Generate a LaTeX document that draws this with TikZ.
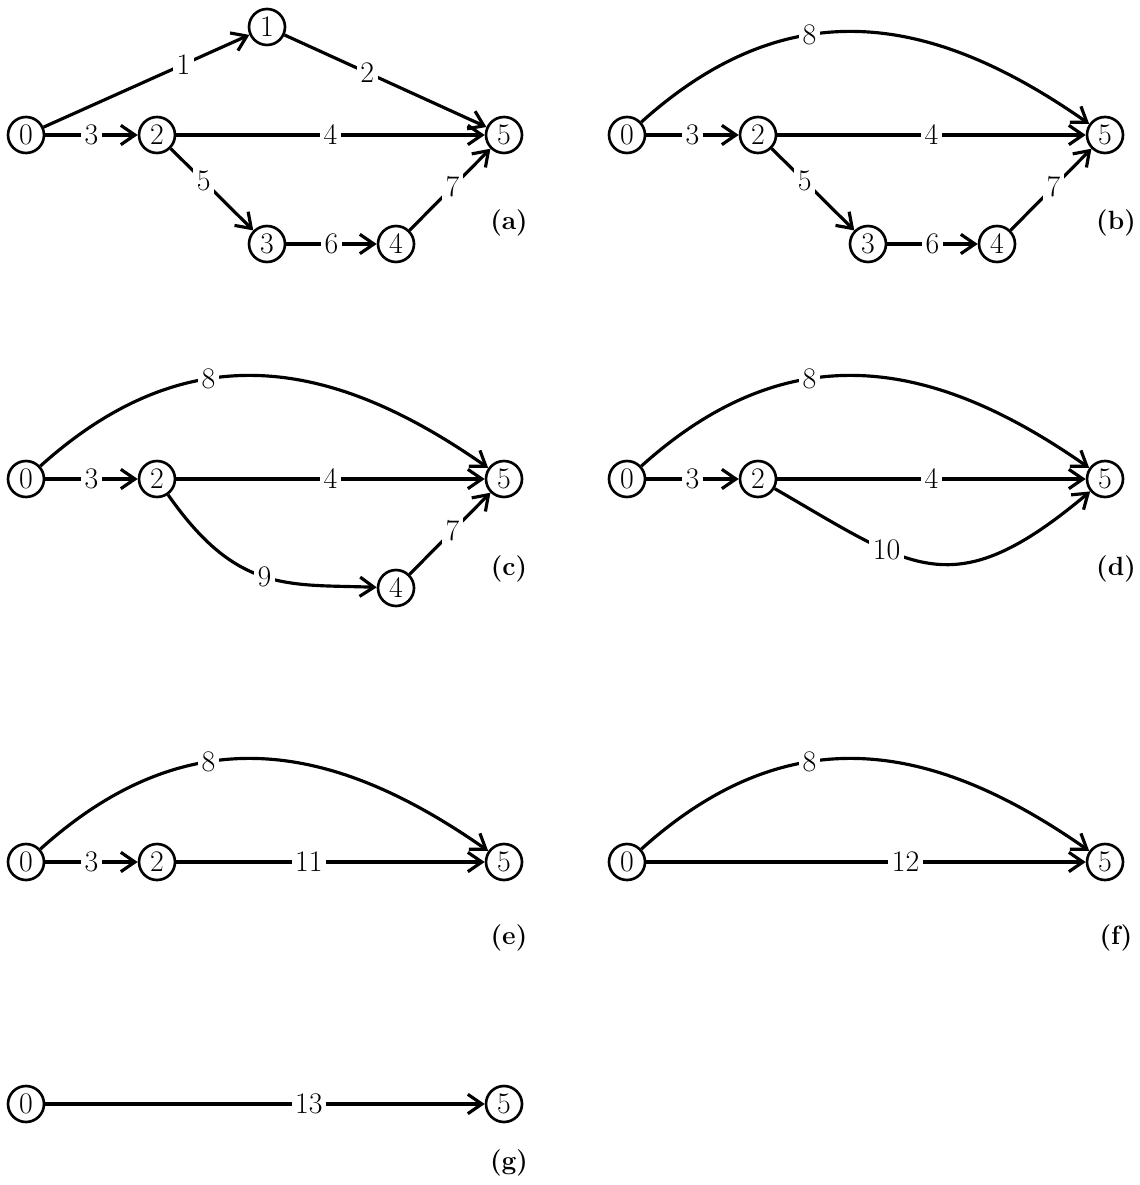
\documentclass[tikz,border=0pt]{standalone}
\usepackage{tikz}
\usetikzlibrary{arrows.meta, positioning}

\begin{document}
\begin{tikzpicture}[x=0.02cm, y=0.02cm]
    % Define styles for the nodes
    \tikzstyle{vertex} = [
        circle, draw, line width=1.5pt, inner sep=0,
        minimum size=0.72cm, font=\fontsize{17}{17}\selectfont
    ]

    \tikzstyle{weight} = [
        fill=white, inner sep=2pt, font=\fontsize{17}{17}\selectfont
    ]

    \tikzstyle{arrow} = [line width=1.8pt, -{Straight Barb[length=8pt, width=11pt]}]

    \tikzstyle{caption} = [font=\fontsize{15}{17}\selectfont\bfseries]

    \useasboundingbox (0,0) rectangle (1139,-1185);

    % Graph (a)
    \node[vertex] (a0) at (26,-135)  {0};
    \node[vertex] (a1) at (267,-27)  {1};
    \node[vertex] (a2) at (157,-135) {2};
    \node[vertex] (a3) at (267,-244) {3};
    \node[vertex] (a4) at (396,-244) {4};
    \node[vertex] (a5) at (504,-135) {5};
    \node[caption] (cap_a) at (509,-223) {(a)};

    \draw[arrow] (a0) -- node[weight, pos=0.68] (wa01) {1} (a1);
    \draw[arrow] (a1) -- node[weight, pos=0.41] (wa15) {2} (a5);
    \draw[arrow] (a0) -- node[weight]           (wa02) {3} (a2);
    \draw[arrow] (a2) -- node[weight]           (wa25) {4} (a5);
    \draw[arrow] (a2) -- node[weight, pos=0.4]  (wa23) {5} (a3);
    \draw[arrow] (a3) -- node[weight]           (wa34) {6} (a4);
    \draw[arrow] (a4) -- node[weight, pos=0.53] (wa45) {7} (a5);

    % Graph (b)
    \node[vertex] (b0) at (627,-135)  {0};
    \node[vertex] (b2) at (758,-135)  {2};
    \node[vertex] (b3) at (868,-244)  {3};
    \node[vertex] (b4) at (997,-244)  {4};
    \node[vertex] (b5) at (1105,-135) {5};
    \node[caption] (cap_b) at (1116,-223) {(b)};

    \draw[arrow] (b0) to[out=42, in=145, out distance=4cm, in distance=3.8cm]
        node[weight, pos=0.38] (wb05) {8} (b5);
    \draw[arrow] (b0) -- node[weight]           (wb02) {3} (b2);
    \draw[arrow] (b2) -- node[weight]           (wb25) {4} (b5);
    \draw[arrow] (b2) -- node[weight, pos=0.4]  (wb23) {5} (b3);
    \draw[arrow] (b3) -- node[weight]           (wb34) {6} (b4);
    \draw[arrow] (b4) -- node[weight, pos=0.53] (wb45) {7} (b5);

    % Graph (c)
    \node[vertex] (c0) at (26,-479)  {0};
    \node[vertex] (c2) at (157,-479) {2};
    \node[vertex] (c4) at (396,-588) {4};
    \node[vertex] (c5) at (504,-479) {5};
    \node[caption] (cap_c) at (509,-569) {(c)};

    \draw[arrow] (c0) to[out=42, in=145, out distance=4cm, in distance=3.8cm]
        node[weight, pos=0.38] (wc05) {8} (c5);
    \draw[arrow] (c0) -- node[weight]           (wc02) {3} (c2);
    \draw[arrow] (c2) -- node[weight]           (wc25) {4} (c5);
    \draw[arrow] (c2) to[out=-55, in=178, out distance=2.4cm, in distance=1.8cm]
        node[weight] (wc24) {9} (c4);
    \draw[arrow] (c4) -- node[weight, pos=0.53] (wc45) {7} (c5);

    % Graph (d)
    \node[vertex] (d0) at (627,-479)  {0};
    \node[vertex] (d2) at (758,-479)  {2};
    \node[vertex] (d5) at (1105,-479) {5};
    \node[caption] (cap_d) at (1116,-569) {(d)};

    \draw[arrow] (d0) to[out=42, in=145, out distance=4cm, in distance=3.8cm]
        node[weight, pos=0.38] (wd05) {8} (d5);
    \draw[arrow] (d0) -- node[weight]           (wd02) {3} (d2);
    \draw[arrow] (d2) -- node[weight]           (wd25) {4} (d5);
    \draw[arrow] (d2) to[out=-30, in=220, out distance=3.2cm, in distance=3.6cm]
        node[weight, pos=0.33] (wd25b) {10} (d5);

    % Graph (e)
    \node[vertex] (e0) at (26,-862)  {0};
    \node[vertex] (e2) at (157,-862) {2};
    \node[vertex] (e5) at (504,-862) {5};
    \node[caption] (cap_e) at (509,-938) {(e)};

    \draw[arrow] (e0) to[out=42, in=145, out distance=4cm, in distance=3.8cm]
        node[weight, pos=0.38] (we05) {8} (e5);
    \draw[arrow] (e0) -- node[weight]            (we02) {3} (e2);
    \draw[arrow] (e2) -- node[weight, pos=0.43]  (we25) {11} (e5);

    % Graph (f)
    \node[vertex] (f0) at (627,-862)  {0};
    \node[vertex] (f5) at (1105,-862) {5};
    \node[caption] (cap_f) at (1116,-938) {(f)};

    \draw[arrow] (f0) to[out=42, in=145, out distance=4cm, in distance=3.8cm]
        node[weight, pos=0.38] (wf05) {8} (f5);
    \draw[arrow] (f0) -- node[weight, pos=0.59]  (wf05b) {12} (f5);

    % Graph (g)
    \node[vertex] (g0) at (26,-1104)  {0};
    \node[vertex] (g5) at (504,-1104) {5};
    \node[caption] (cap_g) at (509,-1163) {(g)};

    \draw[arrow] (g0) -- node[weight, pos=0.6]   (wg05) {13} (g5);

\end{tikzpicture}
\end{document}
